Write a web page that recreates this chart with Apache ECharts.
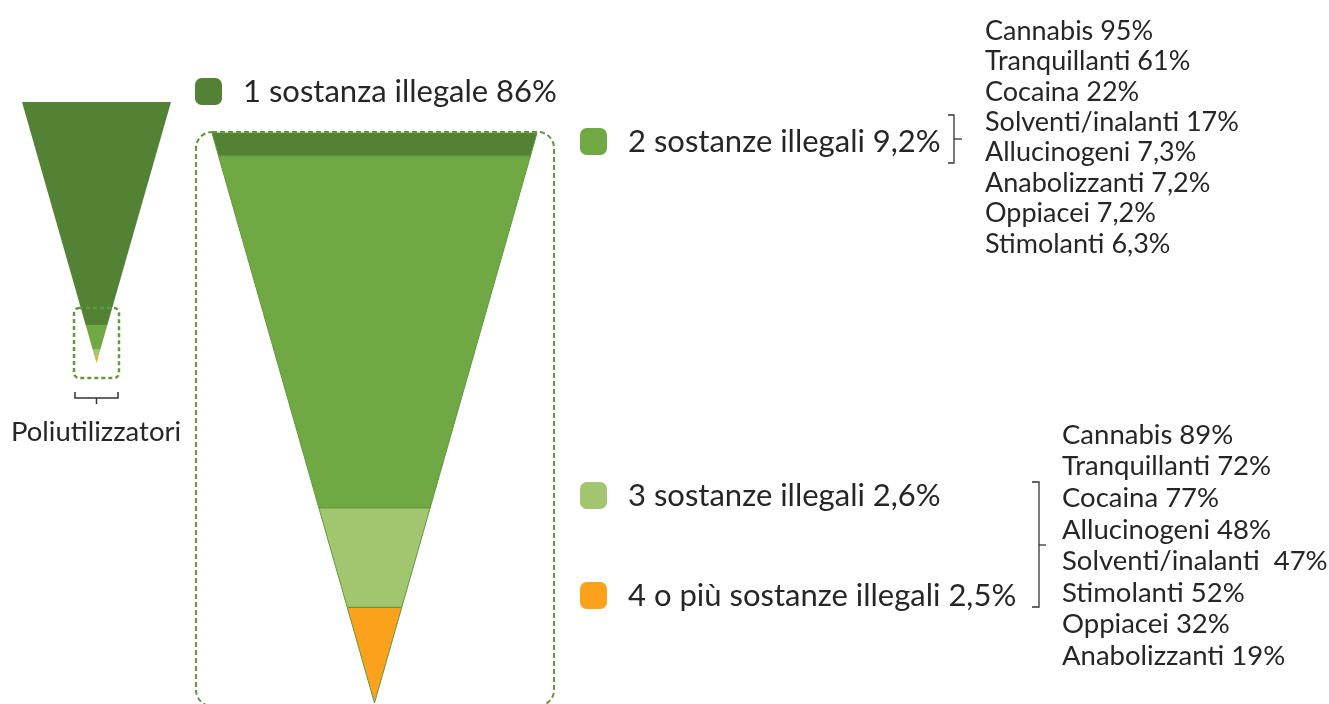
<!DOCTYPE html>
<html>
<head>
<meta charset="utf-8">
<script src="https://cdn.jsdelivr.net/npm/echarts@6/dist/echarts.min.js"></script>
<style>
  html, body { margin: 0; padding: 0; background: #fff; }
  #chart { width: 1329px; height: 704px; }
</style>
</head>
<body>
<div id="chart"></div>
<script>
var categories = ['1 sostanza illegale', '2 sostanze illegali', '3 sostanze illegali', '4 o più sostanze illegali'];
var shares = [86, 9.2, 2.6, 2.5];
var shareLabels = ['86%', '9,2%', '2,6%', '2,5%'];
var colors = ['#548235', '#70a844', '#a2c56f', '#fba11c'];
// sliver of "1 sostanza" left on top of the zoomed funnel
var zoomHead = 0.6;

var subst2 = ['Cannabis', 'Tranquillanti', 'Cocaina', 'Solventi/inalanti', 'Allucinogeni', 'Anabolizzanti', 'Oppiacei', 'Stimolanti'];
var subst2Values = ['95%', '61%', '22%', '17%', '7,3%', '7,2%', '7,2%', '6,3%'];
var subst3 = ['Cannabis', 'Tranquillanti', 'Cocaina', 'Allucinogeni', 'Solventi/inalanti ', 'Stimolanti', 'Oppiacei', 'Anabolizzanti'];
var subst3Values = ['89%', '72%', '77%', '48%', '47%', '52%', '32%', '19%'];

var FONT = 'Lato, "Open Sans", sans-serif';
var TEXT = '#262626';

// value = share of this step and all below it (width at the top of the step),
// height of the step proportional to its own share
function funnelData(parts) {
    var total = parts.reduce(function (s, p) { return s + p.share; }, 0);
    var rest = total;
    var out = parts.map(function (p) {
        var item = {
            name: p.name,
            value: rest,
            itemStyle: { color: p.color, height: (p.share / total * 100) + '%' }
        };
        rest -= p.share;
        return item;
    });
    return { data: out, total: total };
}

var fullParts = categories.map(function (c, i) { return { name: c, share: shares[i], color: colors[i] }; });
var zoomParts = [{ name: categories[0], share: zoomHead, color: colors[0] }].concat(fullParts.slice(1));
var full = funnelData(fullParts);
var zoom = funnelData(zoomParts);

function funnel(d, box, border) {
    return {
        type: 'funnel',
        left: box[0], top: box[1], width: box[2], height: box[3],
        min: 0, max: d.total,
        minSize: '0%', maxSize: '100%',
        sort: 'none', gap: 0, silent: true,
        label: { show: false }, labelLine: { show: false },
        itemStyle: { borderColor: '#5f9a3b', borderWidth: border },
        emphasis: { disabled: true },
        data: d.data
    };
}

var legendPos = [[195, 76], [580, 126], [580, 480], [580, 580]];

var chart = echarts.init(document.getElementById('chart'));
chart.setOption({
    animation: false,
    legend: categories.map(function (name, i) {
        return {
            data: [name],
            left: legendPos[i][0], top: legendPos[i][1],
            padding: 0,
            icon: 'roundRect', itemWidth: 27, itemHeight: 27,
            itemStyle: { borderWidth: 0 },
            selectedMode: false,
            formatter: function (n) { return n + ' ' + shareLabels[categories.indexOf(n)]; },
            textStyle: { fontFamily: FONT, fontSize: 31, color: TEXT, lineHeight: 27, padding: [0, 0, 0, 16] }
        };
    }),
    series: [
        funnel(full, [22, 102, 149, 261], 0),
        funnel(zoom, [212, 133, 325, 570], 1)
    ],
    graphic: [
        // zoom boxes
        { type: 'rect', z: 10, shape: { x: 74, y: 308, width: 45, height: 70, r: 5 },
          style: { fill: 'none', stroke: '#5f9a3b', lineWidth: 2.5, lineDash: [4, 3] } },
        { type: 'rect', z: 10, shape: { x: 196, y: 132, width: 358, height: 574, r: 16 },
          style: { fill: 'none', stroke: '#5f9a3b', lineWidth: 2, lineDash: [5, 3] } },
        // brackets
        { type: 'polyline', shape: { points: [[75, 392], [75, 398], [118, 398], [118, 392]] },
          style: { stroke: '#333', lineWidth: 1.5, fill: 'none' } },
        { type: 'line', shape: { x1: 96.5, y1: 398, x2: 96.5, y2: 404 }, style: { stroke: '#333', lineWidth: 1.5 } },
        { type: 'polyline', shape: { points: [[948, 115], [954, 115], [954, 163], [948, 163]] },
          style: { stroke: '#333', lineWidth: 1.3, fill: 'none' } },
        { type: 'line', shape: { x1: 954, y1: 139, x2: 962, y2: 139 }, style: { stroke: '#333', lineWidth: 1.3 } },
        { type: 'polyline', shape: { points: [[1032, 482], [1039, 482], [1039, 607], [1032, 607]] },
          style: { stroke: '#333', lineWidth: 1.3, fill: 'none' } },
        { type: 'line', shape: { x1: 1039, y1: 545, x2: 1046, y2: 545 }, style: { stroke: '#333', lineWidth: 1.3 } },
        // texts
        { type: 'text', style: { text: 'Poliutilizzatori', x: 96, y: 432, align: 'center', verticalAlign: 'middle',
            fontFamily: FONT, fontSize: 27.5, fill: TEXT } },
        { type: 'text', style: {
            text: subst2.map(function (s, i) { return s + ' ' + subst2Values[i]; }).join('\n'),
            x: 985, y: 31 - 15.2, verticalAlign: 'top', lineHeight: 30.4,
            fontFamily: FONT, fontSize: 27, fill: TEXT } },
        { type: 'text', style: {
            text: subst3.map(function (s, i) { return s + ' ' + subst3Values[i]; }).join('\n'),
            x: 1062, y: 435 - 15.8, verticalAlign: 'top', lineHeight: 31.6,
            fontFamily: FONT, fontSize: 27.5, fill: TEXT } }
    ]
});
</script>
</body>
</html>
